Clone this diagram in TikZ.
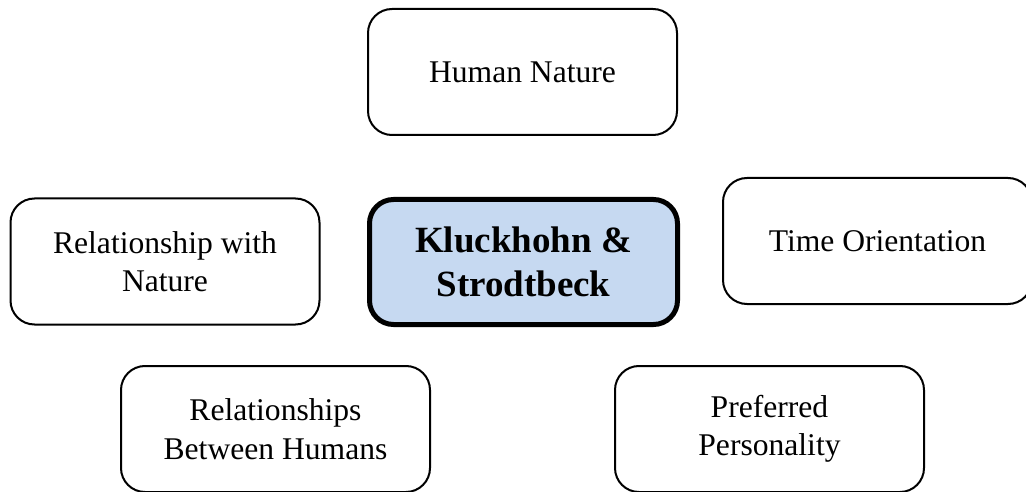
\documentclass[tikz,border=0pt]{standalone}
\usepackage{fontspec}
\setmainfont{Liberation Serif}
\begin{document}
\begin{tikzpicture}[x=1pt,y=-1pt,
  item/.style={draw=black, line width=2pt, rounded corners=24pt, fill=white,
    minimum width=309pt, minimum height=126pt, inner sep=0pt, outer sep=0pt,
    align=center, font=\fontsize{31.6}{38.5}\selectfont},
  core/.style={item, line width=5pt, fill=coreblue, minimum width=308pt, minimum height=125pt,
    font=\bfseries\fontsize{37}{44}\selectfont}]
  \definecolor{coreblue}{HTML}{C6D9F1}
  \clip (0,0) rectangle (1026,492);
  \useasboundingbox (0,0) rectangle (1026,492);
  \node[item] (human) at (522.5,72) {Human Nature};
  \node[item] (nature) at (165,261.5) {Relationship with\\Nature};
  \node[core] (kluck) at (523.5,262) {Kluckhohn \&\\Strodtbeck};
  \node[item] (time) at (877.5,241) {Time Orientation};
  \node[item] (between) at (275.5,429) {Relationships\\Between Humans};
  \node[item] (pers) at (769.5,429) {Preferred\\Personality};
\end{tikzpicture}
\end{document}
